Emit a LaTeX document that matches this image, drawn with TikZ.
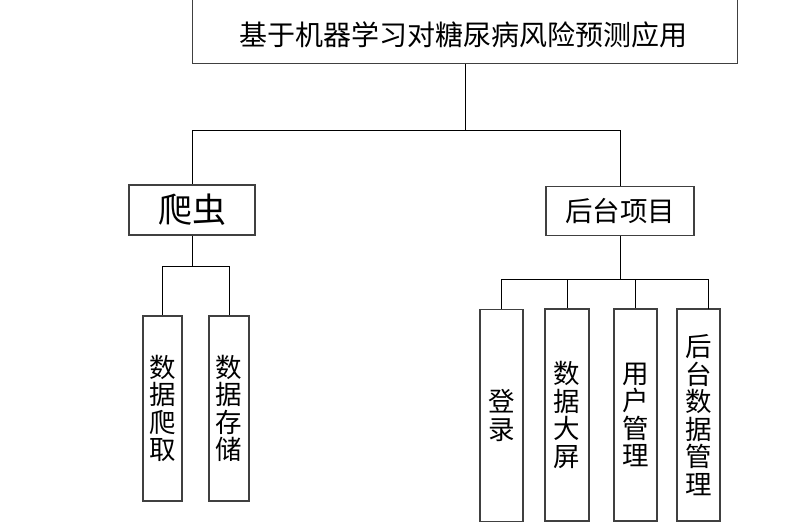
\documentclass[tikz,border=0pt]{standalone}
\usepackage{fontspec}
\setmainfont{Noto Sans CJK SC}
\begin{document}
\begin{tikzpicture}[x=1pt,y=-1pt,
  box/.style={draw=black!75,line width=1.2pt,inner sep=0pt,align=center},
  conn/.style={draw=black,line width=1pt},
  vtext/.style={font=\fontsize{26.5}{27.5}\selectfont},
  ]
\useasboundingbox (0,0) rectangle (805,524);
% top
\node[box, minimum width=545pt, minimum height=68pt] (top) at (465,29.5) {};
\node[font=\fontsize{28}{30}\selectfont, inner sep=0pt] (title) at (463.5,35) {基于机器学习对糖尿病风险预测应用};
% level 2
\node[box, minimum width=126pt, minimum height=50pt, font=\fontsize{34}{36}\selectfont] (spider) at (192,210) {爬虫};
\node[box, minimum width=148pt, minimum height=49pt, font=\fontsize{27.5}{30}\selectfont] (backend) at (620,211) {后台项目};
% level 3 left
\node[box, vtext, minimum width=39pt, minimum height=185pt] (c1) at (162.5,408.5) {数\\据\\爬\\取};
\node[box, vtext, minimum width=40pt, minimum height=185pt] (c2) at (229,408.5) {数\\据\\存\\储};
% level 3 right
\node[box, vtext, minimum width=43pt, minimum height=212pt] (b1) at (501.5,415.5) {登\\录};
\node[box, vtext, minimum width=44pt, minimum height=212pt] (b2) at (567,415) {数\\据\\大\\屏};
\node[box, vtext, minimum width=43pt, minimum height=212pt] (b3) at (635.5,415) {用\\户\\管\\理};
\node[box, vtext, minimum width=43pt, minimum height=212pt] (b4) at (698.5,415) {后\\台\\数\\据\\管\\理};
% junctions
\coordinate (j1) at (465,130);
\coordinate (j2) at (192,266);
\coordinate (j3) at (620,279);
\coordinate (b4top) at (708,309);
% connectors
\draw[conn] (top.south) -- (j1);
\draw[conn] (j1) -| (spider.north);
\draw[conn] (j1) -| (backend.north);
\draw[conn] (spider.south) -- (j2);
\draw[conn] (j2) -| (c1.north);
\draw[conn] (j2) -| (c2.north);
\draw[conn] (backend.south) -- (j3);
\draw[conn] (j3) -| (b1.north);
\draw[conn] (j3) -| (b2.north);
\draw[conn] (j3) -| (b3.north);
\draw[conn] (j3) -| (b4top);
\end{tikzpicture}
\end{document}
